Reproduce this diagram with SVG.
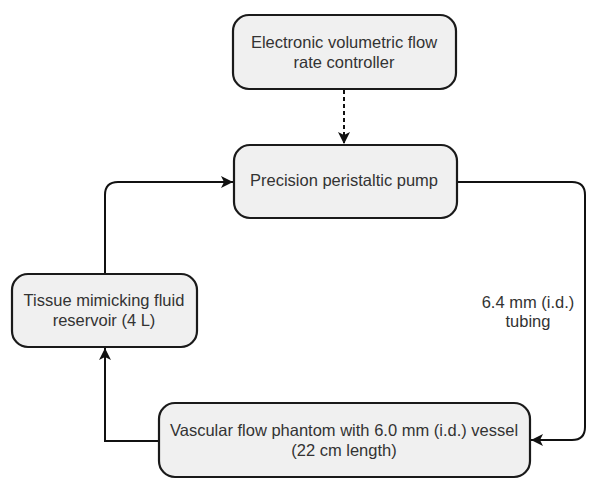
<svg xmlns="http://www.w3.org/2000/svg" width="601" height="493" viewBox="0 0 601 493">
<style>
.box{fill:#f0f0f0;stroke:#1a1a1a;stroke-width:2.2}
.t{font-family:"Liberation Sans",Arial,sans-serif;font-size:16.5px;fill:#333;text-anchor:middle}
.c{fill:none;stroke:#111;stroke-width:2}
</style>
<defs>
<marker id="ah" viewBox="0 0 12 12" refX="12" refY="6" markerWidth="12" markerHeight="12" markerUnits="userSpaceOnUse" orient="auto">
<path d="M0,0 L12,6 L0,12 L3,6 Z" fill="#111"/>
</marker>
</defs>
<rect width="601" height="493" fill="#fff"/>
<g id="connectors">
<path class="c" d="M344,90 V144" stroke-dasharray="4,3" marker-end="url(#ah)"/>
<path class="c" d="M105,274 V195 Q105,182 118,182 H233" marker-end="url(#ah)"/>
<path class="c" d="M457,182 H572 Q585,182 585,195 V427 Q585,440 572,440 H531" marker-end="url(#ah)"/>
<path class="c" d="M159,441 H105 V348" marker-end="url(#ah)"/>
<text class="t" x="528" y="308">6.4 mm (i.d.)</text>
<text class="t" x="528" y="327">tubing</text>
</g>
<g id="controller">
<rect class="box" x="233" y="15" width="223" height="74" rx="16"/>
<text class="t" x="344" y="48">Electronic volumetric flow</text>
<text class="t" x="344" y="68">rate controller</text>
</g>
<g id="pump">
<rect class="box" x="234" y="145" width="223" height="73" rx="16"/>
<text class="t" x="344" y="186">Precision peristaltic pump</text>
</g>
<g id="reservoir">
<rect class="box" x="12" y="274" width="185" height="73" rx="16"/>
<text class="t" x="104" y="306">Tissue mimicking fluid</text>
<text class="t" x="104" y="326">reservoir (4 L)</text>
</g>
<g id="phantom">
<rect class="box" x="159" y="403" width="371" height="74" rx="16"/>
<text class="t" x="344" y="436">Vascular flow phantom with 6.0 mm (i.d.) vessel</text>
<text class="t" x="344" y="456">(22 cm length)</text>
</g>
</svg>
